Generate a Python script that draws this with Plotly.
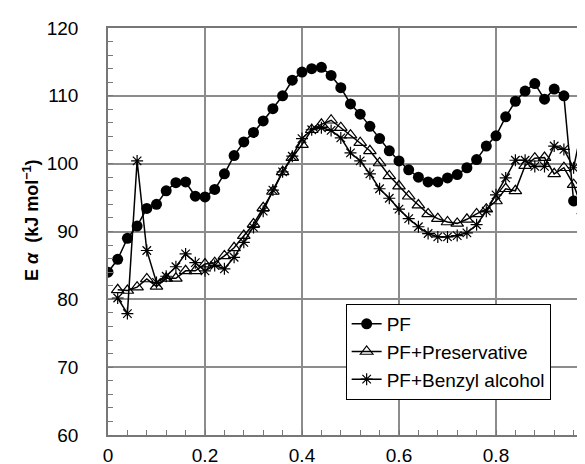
import plotly.graph_objects as go

x_pf = [round(0.02 * i, 2) for i in range(49)]  # 0.00 .. 0.96
x_pr = [round(0.02 * i, 2) for i in range(1, 50)]  # 0.02 .. 0.98
x_ba = [round(0.02 * i, 2) for i in range(1, 50)]  # 0.02 .. 0.98

pf = [84.0, 85.9, 89.0, 90.8, 93.4, 94.0, 96.0, 97.2, 97.3, 95.2,
      95.1, 96.2, 98.5, 101.2, 103.2, 104.6, 106.3, 108.1, 110.0, 112.3,
      113.5, 114.0, 114.2, 113.0, 111.2, 108.8, 107.3, 105.5, 103.7, 101.9,
      100.4, 99.1, 98.0, 97.3, 97.3, 97.9, 98.4, 99.4, 100.6, 102.6,
      104.1, 106.9, 109.2, 110.7, 111.8, 109.5, 111.0, 110.0, 94.5]

pf_pres = [81.4, 81.3, 81.8, 83.0, 81.9, 83.1, 83.1, 84.2, 84.2, 85.2,
           85.4, 86.4, 87.6, 89.4, 91.1, 93.5, 95.9, 98.8, 100.9, 102.8,
           105.0, 105.8, 106.4, 105.3, 104.2, 103.1, 101.9, 100.1, 98.2, 96.7,
           95.2, 93.9, 92.6, 91.9, 91.4, 91.2, 91.8, 92.6, 93.3, 94.5,
           96.3, 96.0, 99.7, 100.8, 100.9, 98.5, 99.4, 96.9, 93.0]

pf_benzyl = [80.2, 77.9, 100.4, 87.2, 82.5, 83.4, 84.8, 86.7, 85.4, 84.2,
             85.0, 84.5, 86.2, 88.4, 90.6, 93.0, 96.1, 98.8, 101.1, 103.7,
             105.0, 105.3, 104.9, 103.8, 101.6, 100.4, 98.5, 96.3, 94.9, 93.3,
             91.9, 90.7, 89.7, 89.2, 89.2, 89.4, 89.8, 91.0, 93.0, 95.4,
             97.9, 100.5, 100.5, 99.6, 99.6, 102.6, 102.1, 99.4, 106.3]

names = ["PF", "PF+Preservative", "PF+Benzyl alcohol"]
x_ticks = [0, 0.2, 0.4, 0.6, 0.8, 1]
x_tick_labels = ["0", "0.2", "0.4", "0.6", "0.8", "1"]
y_ticks = [60, 70, 80, 90, 100, 110, 120]
y_title = "<b>E <i>α</i>  (kJ mol<sup>−1</sup>)</b>"

FONT = "Liberation Sans, Arial, sans-serif"
fig = go.Figure()
fig.add_trace(go.Scatter(
    x=x_pf, y=pf, name=names[0], mode="lines+markers",
    line=dict(color="black", width=1.5),
    marker=dict(symbol="circle", size=11, color="black")))
fig.add_trace(go.Scatter(
    x=x_pr, y=pf_pres, name=names[1], mode="lines+markers",
    line=dict(color="black", width=1.5),
    marker=dict(symbol="triangle-up-open", size=11, color="black",
                line=dict(width=1.2, color="black"))))
fig.add_trace(go.Scatter(
    x=x_ba, y=pf_benzyl, name=names[2], mode="lines+markers",
    line=dict(color="black", width=1.5),
    marker=dict(symbol="asterisk-open", size=10, color="black",
                line=dict(width=1.2, color="black"))))

axis_common = dict(
    showgrid=True, gridcolor="#8c8c8c", gridwidth=1.5,
    showline=True, linecolor="#777777", linewidth=1.5, mirror=True,
    ticks="inside", ticklen=0, tickcolor="#777777",
    tickfont=dict(family=FONT, size=19, color="black"),
    zeroline=False, automargin=False, ticklabeloverflow="allow",
)

fig.update_xaxes(
    range=[0, 1], tickvals=x_ticks, ticktext=x_tick_labels,
    minor=dict(dtick=0.04, ticks="inside", ticklen=5, tickcolor="#777777", showgrid=False),
    ticklabelstandoff=2,
    **axis_common)
fig.update_yaxes(
    range=[60, 120], tickvals=y_ticks,
    minor=dict(dtick=2, ticks="inside", ticklen=5, tickcolor="#777777", showgrid=False),
    ticklabelstandoff=24,
    **axis_common)

fig.add_annotation(
    text=y_title, xref="paper", yref="paper", x=-0.159, y=0.528,
    xanchor="center", yanchor="middle", textangle=-90, showarrow=False,
    font=dict(family=FONT, size=18, color="black"))

fig.update_layout(
    width=585, height=464,
    margin=dict(l=100, r=0, t=20, b=37),
    paper_bgcolor="white", plot_bgcolor="white",
    legend=dict(x=0.49, y=0.322, xanchor="left", yanchor="top",
                bgcolor="white", bordercolor="black", borderwidth=1,
                font=dict(family=FONT, size=19, color="black"),
                tracegroupgap=0, itemwidth=30),
    showlegend=True,
)

fig.write_html("out.html")
